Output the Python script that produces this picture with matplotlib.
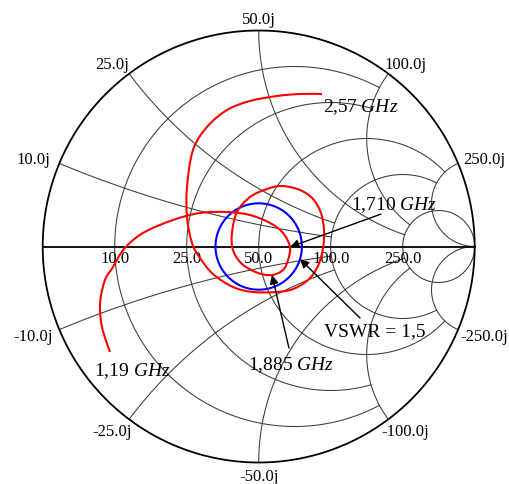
import numpy as np
import matplotlib
matplotlib.use("Agg")
import matplotlib.pyplot as plt
from matplotlib.path import Path
from matplotlib.patches import PathPatch

plt.rcParams["font.family"] = ["Liberation Serif", "DejaVu Serif"]
plt.rcParams["mathtext.fontset"] = "custom"
plt.rcParams["mathtext.rm"] = "Liberation Serif"
plt.rcParams["mathtext.it"] = "Liberation Serif:italic"

# ---------------- data ----------------
Z0 = 50.0
# measured impedance trace (ohm), from 1.19 GHz to 2.57 GHz
trace_R = [4.65, 5.37, 6.37, 7.95, 9.53, 11.59, 15.01, 21.04, 27.47, 35.54,
           44.27, 54.15, 62.11, 66.94, 65.08, 61.01, 54.50, 48.21, 42.30, 39.34,
           38.72, 39.00, 41.68, 46.59, 52.04, 61.93, 72.96, 84.14, 91.64, 92.40,
           85.71, 74.52, 62.72, 53.75, 43.49, 36.92, 31.63, 28.49, 26.39, 24.30,
           22.00, 18.62, 17.28, 16.89, 17.73, 19.17, 20.17, 20.82]
trace_X = [-15.81, -11.96, -8.50, -5.25, -3.37, -0.44, 2.65, 6.24, 9.45, 11.91,
           13.21, 11.96, 7.90, -0.31, -8.32, -13.61, -14.69, -12.01, -6.94, -1.29,
           4.94, 12.91, 20.20, 26.74, 32.04, 36.20, 36.12, 29.24, 15.51, -1.40,
           -16.89, -25.02, -26.37, -23.87, -19.18, -14.56, -8.58, -3.28, 0.95, 7.62,
           14.89, 23.51, 30.03, 36.86, 43.86, 52.66, 61.25, 70.73]
idx_1710 = 13
idx_1885 = 16
vswr = 1.5

grid_R = [10, 25, 50, 100, 250]
grid_X = [10, 25, 50, 100, 250]
real_labels = ["10.0", "25.0", "50.0", "100.0", "250.0"]
imag_labels_pos = ["10.0j", "25.0j", "50.0j", "100.0j", "250.0j"]
imag_labels_neg = ["-10.0j", "-25.0j", "-50.0j", "-100.0j", "-250.0j"]
# where each grid circle stops (fancy grid), ohm
grid_limit = {10: 100, 25: 100, 50: 250, 100: 250, 250: np.inf}

label_start = "1,19 $GHz$"
label_end = "2,57 $GHz$"
label_1710 = "1,710 $GHz$"
label_1885 = "1,885 $GHz$"
label_vswr = "VSWR = 1,5"


def gamma(Z):
    z = np.asarray(Z, dtype=complex) / Z0
    return (z - 1) / (z + 1)


def smooth_path(pts):
    """Catmull-Rom curve through the points, as cubic Bezier segments."""
    P = np.asarray(pts)
    n = len(P)
    verts = [P[0]]
    codes = [Path.MOVETO]
    for i in range(n - 1):
        p_prev = P[i - 1] if i > 0 else P[i]
        p_next2 = P[i + 2] if i + 2 < n else P[i + 1]
        c1 = P[i] + (P[i + 1] - p_prev) / 6.0
        c2 = P[i + 1] - (p_next2 - P[i]) / 6.0
        verts += [c1, c2, P[i + 1]]
        codes += [Path.CURVE4] * 3
    return Path(verts, codes)


# ---------------- figure ----------------
fig = plt.figure(figsize=(5.09, 4.84), dpi=100)
ax = fig.add_axes([0, 0, 1, 1])
ax.set_xlim(-1.1977, 1.1588)
ax.set_ylim(-1.0995, 1.1412)
ax.axis("off")

gc = "#3a3a3a"
glw = 0.75

# resistance circles
for R in grid_R:
    Xe = grid_limit[R]
    pe = np.pi / 2 if np.isinf(Xe) else np.arctan(Xe / (R + Z0))
    phi = np.linspace(-pe, pe, 600)
    g = 1 - Z0 / (R + Z0) * (1 + np.exp(-2j * phi))
    ax.plot(g.real, g.imag, color=gc, lw=glw, zorder=1)

# reactance arcs
for Xv in grid_X:
    Re = grid_limit[Xv]
    for X in (Xv, -Xv):
        p0 = np.arctan2(X, Z0)
        p1 = 0.0 if np.isinf(Re) else np.arctan2(X, Re + Z0)
        psi = np.linspace(p0, p1, 600)
        g = 1 - 2 * Z0 * np.sin(psi) * np.exp(-1j * psi) / X
        ax.plot(g.real, g.imag, color=gc, lw=glw, zorder=1)

# outer circle and real axis
t = np.linspace(0, 2 * np.pi, 800)
ax.plot(np.cos(t), np.sin(t), color="k", lw=1.3, zorder=3)
ax.plot([-1, 1], [0, 0], color="k", lw=1.3, zorder=3)

# real-axis labels
for R, lab in zip(grid_R, real_labels):
    g = gamma(R)
    ax.annotate(lab, (g.real, 0), xytext=(0, -3.5), textcoords="offset points",
                ha="center", va="top", fontsize=12, zorder=4)

# imaginary labels on the outer circle
A, B = 20.5, 9.3
for X, lp, ln in zip(grid_X, imag_labels_pos, imag_labels_neg):
    for val, lab in ((X, lp), (-X, ln)):
        g = gamma(1j * val)
        c, s = g.real, g.imag
        ax.annotate(lab, (c, s), xytext=(A * c, B * s), textcoords="offset points",
                    ha="center", va="center_baseline", fontsize=12, zorder=4)

# VSWR circle
rho = (vswr - 1) / (vswr + 1)
ax.plot(rho * np.cos(t), rho * np.sin(t), color="#0000ff", lw=1.5, zorder=5)

# impedance trace
gt = gamma(np.array(trace_R) + 1j * np.array(trace_X))
path = smooth_path(np.column_stack([gt.real, gt.imag]))
ax.add_patch(PathPatch(path, facecolor="none", edgecolor="#ff0000", lw=1.5,
                       zorder=6, joinstyle="round", capstyle="butt"))

# annotations
fs = 14
ax.text(0.298, 0.646, label_end, ha="left", va="center", fontsize=fs, zorder=7)
ax.text(-0.587, -0.576, label_start, ha="center", va="center", fontsize=fs, zorder=7)
ax.text(0.626, 0.192, label_1710, ha="center", va="center", fontsize=fs, zorder=7)
ax.text(0.150, -0.549, label_1885, ha="center", va="center", fontsize=fs, zorder=7)
ax.text(0.538, -0.396, label_vswr, ha="center", va="center", fontsize=fs, zorder=7)

ap = dict(arrowstyle="-|>", color="k", lw=1.0, mutation_scale=13,
          shrinkA=0, shrinkB=0)
ax.annotate("", xy=(gt[idx_1710].real, gt[idx_1710].imag), xytext=(0.566, 0.150),
            arrowprops=ap, zorder=8)
ax.annotate("", xy=(gt[idx_1885].real, gt[idx_1885].imag), xytext=(0.140, -0.470),
            arrowprops=ap, zorder=8)
gv = rho * np.exp(-1j * np.deg2rad(17))
ax.annotate("", xy=(gv.real, gv.imag), xytext=(0.469, -0.331),
            arrowprops=ap, zorder=8)

fig.savefig("out.png", dpi=100, facecolor="white")
